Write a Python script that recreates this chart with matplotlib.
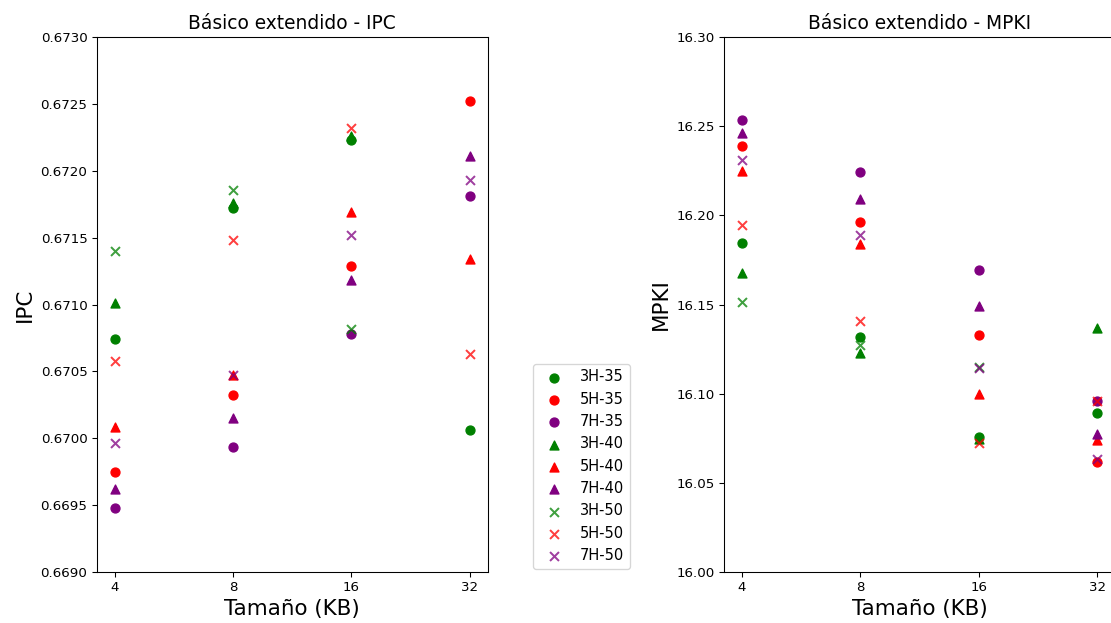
import matplotlib
matplotlib.use("Agg")
import numpy as np
import matplotlib.pyplot as plt
from matplotlib.ticker import FormatStrFormatter

nan = np.nan

sizes = ["4", "8", "16", "32"]
labels = ["3H-35", "5H-35", "7H-35", "3H-40", "5H-40", "7H-40", "3H-50", "5H-50", "7H-50"]

# IPC per configuration (points outside the visible range left out)
ipc_3h_35 = [0.67074, 0.67172, 0.67223, 0.67006]
ipc_5h_35 = [0.66975, 0.67032, 0.67129, 0.67252]
ipc_7h_35 = [0.66948, 0.66993, 0.67078, 0.67181]
ipc_3h_40 = [0.67101, 0.67176, 0.67226, nan]
ipc_5h_40 = [0.67008, 0.67047, 0.67169, 0.67134]
ipc_7h_40 = [0.66962, 0.67015, 0.67118, 0.67211]
ipc_3h_50 = [0.67140, 0.67186, 0.67082, nan]
ipc_5h_50 = [0.67058, 0.67148, 0.67232, 0.67063]
ipc_7h_50 = [0.66996, 0.67047, 0.67152, 0.67193]

# MPKI per configuration
mpki_3h_35 = [16.1845, 16.1317, 16.0758, 16.0890]
mpki_5h_35 = [16.2388, 16.1961, 16.1331, 16.0618]
mpki_7h_35 = [16.2538, 16.2244, 16.1695, 16.0961]
mpki_3h_40 = [16.1676, 16.1230, 16.0745, 16.1367]
mpki_5h_40 = [16.2251, 16.1839, 16.0997, 16.0740]
mpki_7h_40 = [16.2463, 16.2094, 16.1489, 16.0772]
mpki_3h_50 = [16.1513, 16.1274, 16.1150, nan]
mpki_5h_50 = [16.1944, 16.1410, 16.0725, 16.0961]
mpki_7h_50 = [16.2309, 16.1892, 16.1142, 16.0631]

ipc = [ipc_3h_35, ipc_5h_35, ipc_7h_35, ipc_3h_40, ipc_5h_40, ipc_7h_40,
       ipc_3h_50, ipc_5h_50, ipc_7h_50]
mpki = [mpki_3h_35, mpki_5h_35, mpki_7h_35, mpki_3h_40, mpki_5h_40, mpki_7h_40,
        mpki_3h_50, mpki_5h_50, mpki_7h_50]

colors = ["green", "red", "purple"] * 3
markers = ["o"] * 3 + ["^"] * 3 + ["x"] * 3
alphas = [1.0] * 6 + [0.75] * 3

fig = plt.figure(figsize=(1111 / 96, 623 / 96), dpi=96)
ax1 = fig.add_axes([0.0871, 0.0823, 0.3519, 0.8578])
# right panel runs past the figure edge, as in the original crop
ax2 = fig.add_axes([0.6517, 0.0823, 0.3519, 0.8578])

for vals, c, m, a, lab in zip(ipc, colors, markers, alphas, labels):
    ax1.scatter(sizes, vals, c=c, marker=m, alpha=a, s=45, label=lab)
for vals, c, m, a, lab in zip(mpki, colors, markers, alphas, labels):
    ax2.scatter(sizes, vals, c=c, marker=m, alpha=a, s=45, label=lab)

ax1.set_ylim(0.669, 0.673)
ax1.set_yticks(np.arange(0.669, 0.67301, 0.0005))
ax1.yaxis.set_major_formatter(FormatStrFormatter("%.4f"))
ax1.set_title("Básico extendido - IPC", fontsize=14)
ax1.set_xlabel("Tamaño (KB)", fontsize=16)
ax1.set_ylabel("IPC", fontsize=16)

ax2.set_ylim(16.0, 16.3)
ax2.set_yticks(np.arange(16.0, 16.301, 0.05))
ax2.yaxis.set_major_formatter(FormatStrFormatter("%.2f"))
ax2.set_title("Básico extendido - MPKI", fontsize=14)
ax2.set_xlabel("Tamaño (KB)", fontsize=16)
ax2.set_ylabel("MPKI", fontsize=16)

ax1.legend(loc="lower left", bbox_to_anchor=(533 / 1111, 54 / 623),
           bbox_transform=fig.transFigure, borderaxespad=0, fontsize=11)

fig.savefig("out.png", dpi=96)
plt.close(fig)
